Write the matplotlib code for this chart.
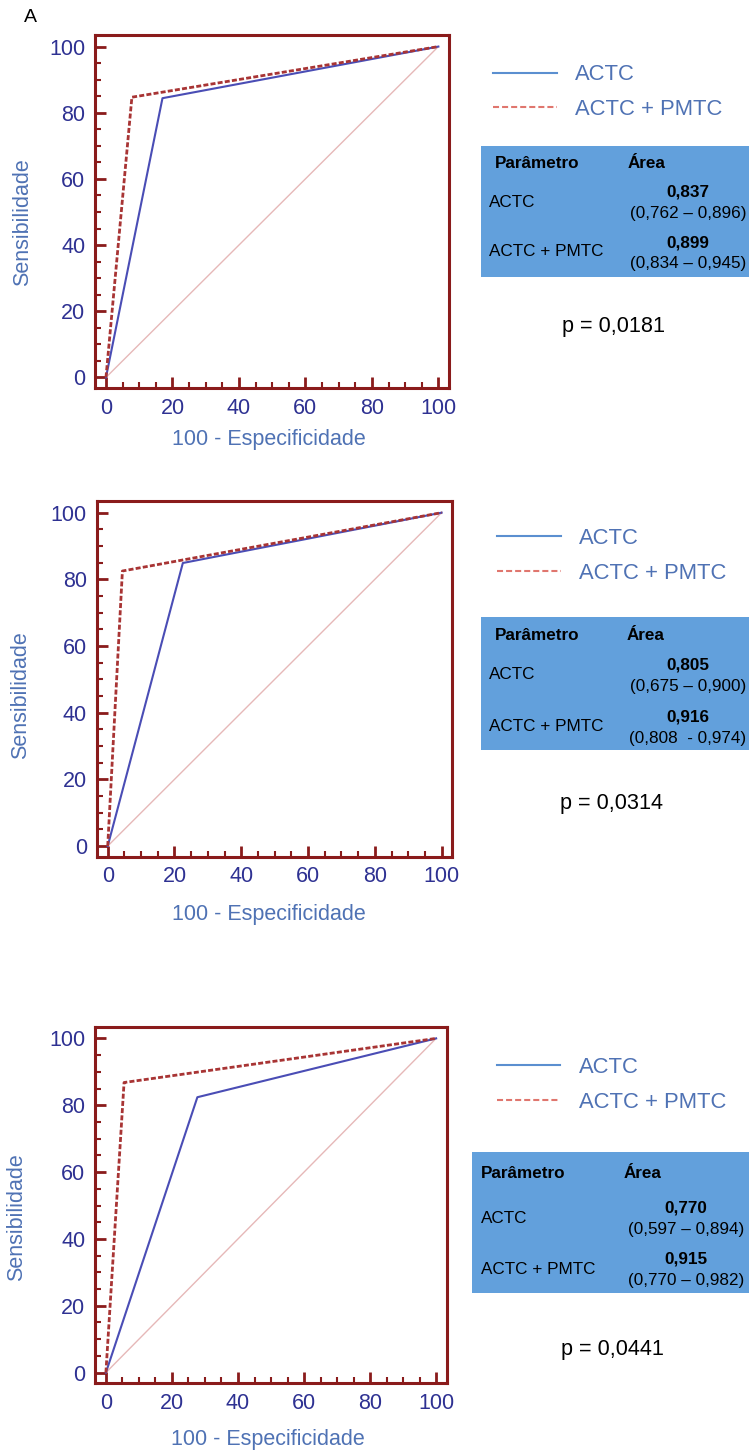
import matplotlib
matplotlib.use('Agg')
import matplotlib.pyplot as plt
from matplotlib.lines import Line2D
from matplotlib.patches import Rectangle
from matplotlib.ticker import MultipleLocator

plt.rcParams['font.family'] = ['Liberation Sans', 'DejaVu Sans']

W, H = 749, 1452

# ---- data ----
fpr_actc_1 = [0, 17.0, 100]
sens_actc_1 = [0, 84.4, 100]
fpr_comb_1 = [0, 7.8, 100]
sens_comb_1 = [0, 84.7, 100]

fpr_actc_2 = [0, 22.5, 100]
sens_actc_2 = [0, 84.9, 100]
fpr_comb_2 = [0, 4.4, 100]
sens_comb_2 = [0, 82.5, 100]

fpr_actc_3 = [0, 27.7, 100]
sens_actc_3 = [0, 82.4, 100]
fpr_comb_3 = [0, 5.5, 100]
sens_comb_3 = [0, 86.8, 100]

diag = [0, 100]

series_names = ['ACTC', 'ACTC + PMTC']
auc_actc = ['0,837', '0,805', '0,770']
ci_actc = ['(0,762 \u2013 0,896)', '(0,675 \u2013 0,900)', '(0,597 \u2013 0,894)']
auc_comb = ['0,899', '0,916', '0,915']
ci_comb = ['(0,834 \u2013 0,945)', '(0,808  - 0,974)', '(0,770 \u2013 0,982)']
p_values = ['p = 0,0181', 'p = 0,0314', 'p = 0,0441']
ticks = [0, 20, 40, 60, 80, 100]

curves = [
    (fpr_actc_1, sens_actc_1, fpr_comb_1, sens_comb_1),
    (fpr_actc_2, sens_actc_2, fpr_comb_2, sens_comb_2),
    (fpr_actc_3, sens_actc_3, fpr_comb_3, sens_comb_3),
]

# ---- layout in pixels ----
ax_px = [(95, 35, 449, 388), (96.7, 501, 452.3, 856.7), (95, 1026.7, 446.7, 1383.3)]
ylab_px = [(23, 222.5), (20.7, 695.5), (16.7, 1216.7)]
xlab_px = [(268.5, 439), (269, 915), (267.5, 1440)]
leg_px = [(493, 72.3), (497, 535.7), (496.7, 1065)]
tab_px = [(480.7, 145.7, 277.3), (480.7, 616.7, 750), (471.7, 1152.3, 1293.3)]
head_x = [(495, 627.7), (495, 626.7), (480.7, 623.3)]
row_x = [489, 489.3, 480.7]
val_x = [688, 688, 686]
rows_y = [
    (163, 202.7, 191.7, 213.3, 251.7, 242.7, 263.3),
    (635, 675, 665, 686.7, 726.7, 716.7, 738),
    (1173.3, 1218.3, 1208.3, 1229.3, 1270, 1259.3, 1280.7),
]
p_px = [(613, 326.7), (611.7, 803.3), (612.5, 1350)]

spine_c = '#8a1b1b'
tick_lab_c = '#2e3192'
label_c = '#4f72b4'
actc_c = '#4a4db5'
comb_c = '#a83434'
diag_c = '#e6b8b8'
leg_actc_c = '#5b8fd0'
leg_comb_c = '#e0766e'
table_c = '#62a0dc'


def fx(x):
    return x / W


def fy(y):
    return 1 - y / H


fig = plt.figure(figsize=(W / 100, H / 100), dpi=100)

for i in range(3):
    l, t, r, b = ax_px[i]
    ax = fig.add_axes([fx(l), fy(b), (r - l) / W, (b - t) / H])
    xa, ya, xc, yc = curves[i]
    ax.plot(diag, diag, color=diag_c, lw=1.0)
    ax.plot(xa, ya, color=actc_c, lw=1.5)
    ax.plot(xc, yc, color=comb_c, lw=2.0, linestyle=(0, (1.8, 0.8)))
    ax.set_xlim(-3.3, 103.2)
    ax.set_ylim(-3.2, 103.5)
    ax.set_xticks(ticks)
    ax.set_yticks(ticks)
    ax.xaxis.set_minor_locator(MultipleLocator(5))
    ax.yaxis.set_minor_locator(MultipleLocator(5))
    for s in ax.spines.values():
        s.set_color(spine_c)
        s.set_linewidth(2.2)
    ax.tick_params(which='major', direction='in', length=8, width=2,
                   color=spine_c, labelcolor=tick_lab_c, labelsize=15.5, pad=7)
    ax.tick_params(which='minor', direction='in', length=4.5, width=1.5,
                   color=spine_c)

    fig.text(fx(ylab_px[i][0]), fy(ylab_px[i][1]), 'Sensibilidade', rotation=90,
             ha='center', va='center', color=label_c, fontsize=15.5)
    fig.text(fx(xlab_px[i][0]), fy(xlab_px[i][1]), '100 - Especificidade',
             ha='center', va='center', color=label_c, fontsize=15.5)

    # legend (drawn with its own colours, as in the figure)
    handles = [Line2D([], [], color=leg_actc_c, lw=1.5),
               Line2D([], [], color=leg_comb_c, lw=1.5, linestyle=(0, (2.9, 1.45)))]
    lx, ly = leg_px[i]
    fig.legend(handles, series_names, loc='upper left',
               bbox_to_anchor=(fx(lx), fy(ly - 8)), bbox_transform=fig.transFigure,
               frameon=False, fontsize=15.8, labelcolor=label_c,
               handlelength=2.9, handletextpad=0.85, labelspacing=0.63,
               borderpad=0, borderaxespad=0)

    # table
    tl, tt, tb = tab_px[i]
    fig.add_artist(Rectangle((fx(tl), fy(tb)), fx(W) - fx(tl), (tb - tt) / H,
                             transform=fig.transFigure, facecolor=table_c,
                             edgecolor='none'))
    hy, r1, a1, c1, r2, a2, c2 = rows_y[i]
    fig.text(fx(head_x[i][0]), fy(hy), 'Parâmetro', fontweight='bold',
             fontsize=12.3, ha='left', va='center')
    fig.text(fx(head_x[i][1]), fy(hy), 'Área', fontweight='bold',
             fontsize=12.3, ha='left', va='center')
    fig.text(fx(row_x[i]), fy(r1), series_names[0], fontsize=12.3, ha='left', va='center')
    fig.text(fx(row_x[i]), fy(r2), series_names[1], fontsize=12.3, ha='left', va='center')
    fig.text(fx(val_x[i]), fy(a1), auc_actc[i], fontweight='bold', fontsize=12.3,
             ha='center', va='center')
    fig.text(fx(val_x[i]), fy(c1), ci_actc[i], fontsize=12.3, ha='center', va='center')
    fig.text(fx(val_x[i]), fy(a2), auc_comb[i], fontweight='bold', fontsize=12.3,
             ha='center', va='center')
    fig.text(fx(val_x[i]), fy(c2), ci_comb[i], fontsize=12.3, ha='center', va='center')

    fig.text(fx(p_px[i][0]), fy(p_px[i][1]), p_values[i], fontsize=15.6,
             ha='center', va='center')

fig.text(fx(30), fy(18), 'A', fontsize=14, ha='center', va='center')

fig.savefig('out.png', dpi=100)
